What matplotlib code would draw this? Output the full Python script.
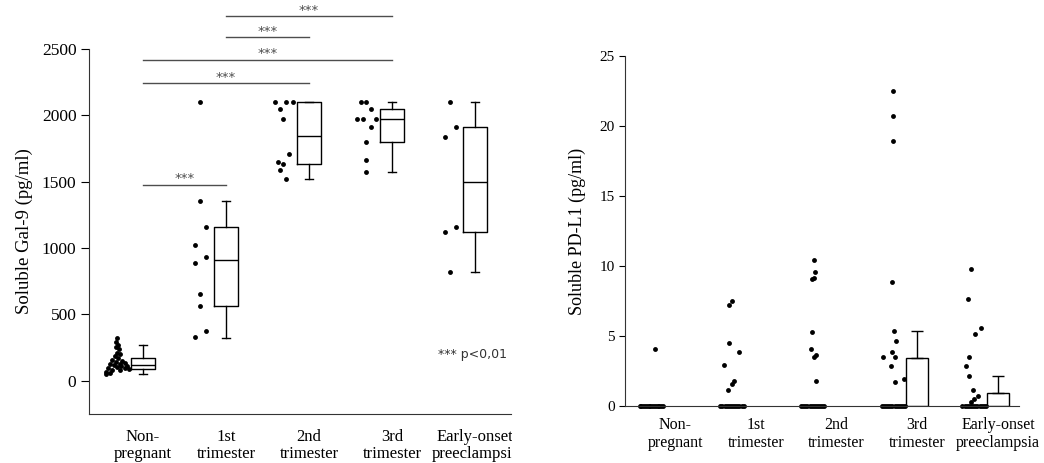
import numpy as np
import matplotlib
matplotlib.use("Agg")
import matplotlib.pyplot as plt
from matplotlib.transforms import Bbox, TransformedBbox

# %% data
groups = ["Non-\npregnant", "1st\ntrimester", "2nd\ntrimester", "3rd\ntrimester", "Early-onset\npreeclampsia"]

# soluble Gal-9 (pg/ml), individual values
gal9_non = [320, 290, 270, 255, 240, 210, 200, 190, 175, 160, 150, 140, 135, 130, 125,
            120, 115, 110, 105, 100, 95, 90, 85, 80, 70, 60, 55]
gal9_1st = [2100, 1353, 1160, 1020, 884, 930, 656, 560, 372, 330]
gal9_2nd = [2100, 2100, 2100, 2050, 1970, 1710, 1650, 1630, 1590, 1520]
gal9_3rd = [2100, 2100, 2050, 1970, 1970, 1970, 1910, 1800, 1660, 1575]
gal9_eo = [2100, 1910, 1840, 1160, 1120, 823]

# box summaries
gal9_q1 = [92, 565, 1630, 1800, 1124]
gal9_med = [120, 911, 1845, 1970, 1500]
gal9_q3 = [175, 1160, 2100, 2050, 1910]
gal9_lo = [50, 326, 1519, 1574, 823]
gal9_hi = [270, 1353, 2100, 2100, 2100]

# significance bars: (group a, group b, height)
sig_pairs = [(1, 3), (1, 2), (0, 3), (0, 2), (0, 1)]
sig_heights = [2750, 2590, 2420, 2245, 1478]

# soluble PD-L1 (pg/ml), non-zero values + count of zeros
pdl1_non = [4.07]
pdl1_1st = [7.21, 7.5, 4.52, 3.83, 2.95, 1.79, 1.55, 1.14]
pdl1_2nd = [10.43, 9.55, 9.07, 9.17, 5.29, 4.1, 3.52, 3.64, 1.76]
pdl1_3rd = [22.5, 20.7, 18.9, 8.86, 5.36, 4.62, 3.52, 3.83, 3.52, 2.88, 1.69, 1.9]
pdl1_eo = [9.81, 7.67, 5.6, 5.14, 3.52, 2.88, 2.17, 1.17, 0.74, 0.5, 0.26]
pdl1_zeros = [14, 12, 12, 12, 12]

bar_groups = [3, 4]
pdl1_mean = [3.45, 0.95]
pdl1_sd = [1.88, 1.19]

# %% horizontal placement of dots
jit_gal9 = [
    [-0.31, -0.33, -0.30, -0.33, -0.29, -0.31, -0.28, -0.34, -0.30, -0.37, -0.25, -0.33, -0.22, -0.28,
     -0.40, -0.35, -0.19, -0.26, -0.31, -0.42, -0.22, -0.17, -0.37, -0.28, -0.44, -0.40, -0.45],
    [-0.31, -0.31, -0.24, -0.38, -0.38, -0.24, -0.31, -0.31, -0.24, -0.38],
    [-0.41, -0.28, -0.20, -0.35, -0.31, -0.24, -0.38, -0.31, -0.35, -0.28],
    [-0.38, -0.31, -0.26, -0.42, -0.35, -0.20, -0.26, -0.31, -0.31, -0.31],
    [-0.30, -0.23, -0.37, -0.23, -0.37, -0.30],
]
jit_pdl1 = [
    [-0.25],
    [-0.33, -0.29, -0.33, -0.21, -0.40, -0.27, -0.30, -0.35],
    [-0.28, -0.27, -0.30, -0.28, -0.30, -0.32, -0.28, -0.26, -0.26],
    [-0.30, -0.30, -0.30, -0.31, -0.29, -0.26, -0.42, -0.31, -0.28, -0.32, -0.27, -0.16],
    [-0.33, -0.37, -0.21, -0.29, -0.36, -0.40, -0.36, -0.31, -0.25, -0.30, -0.34],
]

serif = "Liberation Serif"
fig = plt.figure(figsize=(10.44, 4.63), dpi=100)

# %% left panel: Gal-9
ax1 = fig.add_axes([89 / 1044, 49 / 463, 422 / 1044, 365 / 463])
gal9 = [gal9_non, gal9_1st, gal9_2nd, gal9_3rd, gal9_eo]
for i, vals in enumerate(gal9):
    ax1.plot(np.array(jit_gal9[i]) + i, vals, "o", color="black", ms=3.5, mec="none")

stats = []
for i in range(5):
    stats.append(dict(med=gal9_med[i], q1=gal9_q1[i], q3=gal9_q3[i],
                      whislo=gal9_lo[i], whishi=gal9_hi[i], fliers=[]))
lp = dict(color="black", linewidth=1.0)
ax1.bxp(stats, positions=range(5), widths=0.29, capwidths=0.1, boxprops=lp, whiskerprops=lp,
        capprops=lp, medianprops=lp, showfliers=False, manage_ticks=False)

for (a, b), h in zip(sig_pairs, sig_heights):
    ax1.plot([a, b], [h, h], color="#4d4d4d", lw=1.0, clip_on=False)
    ax1.annotate("***", ((a + b) / 2, h), xytext=(0, -0.5), textcoords="offset points",
                 ha="center", va="bottom", fontsize=9.5, color="#4d4d4d", annotation_clip=False)

ax1.text(3.55, 196, "*** p<0,01", fontsize=9, color="#333333", ha="left", va="center")

ax1.set_xlim(-0.65, 4.43)
ax1.set_ylim(-250, 2500)
ax1.set_yticks([0, 500, 1000, 1500, 2000, 2500])
ax1.set_xticks(range(5))
ax1.set_xticklabels(groups, fontsize=12, family=serif, linespacing=1.1)
ax1.tick_params(axis="x", length=0, pad=11)
ax1.tick_params(axis="y", length=6, width=0.8, labelsize=12.5, pad=3)
for lab in ax1.get_yticklabels():
    lab.set_family(serif)
ax1.set_ylabel("Soluble Gal-9 (pg/ml)", fontsize=13.5, family=serif)
ax1.yaxis.set_label_coords(-0.133, 0.5)
ax1.spines[["top", "right"]].set_visible(False)
ax1.spines["left"].set_color("#333333")
ax1.spines["bottom"].set_color("#333333")
clip = TransformedBbox(Bbox([[0, 0], [512 / 1044, 1]]), fig.transFigure)
for lab in ax1.get_xticklabels():
    lab.set_clip_box(clip)
    lab.set_clip_on(True)

# %% right panel: PD-L1
ax2 = fig.add_axes([625 / 1044, 57 / 463, 394 / 1044, 350 / 463])
pdl1 = [pdl1_non, pdl1_1st, pdl1_2nd, pdl1_3rd, pdl1_eo]
for i, vals in enumerate(pdl1):
    ax2.plot(np.array(jit_pdl1[i]) + i, vals, "o", color="black", ms=3.5, mec="none")
    zx = np.linspace(-0.44, -0.15, pdl1_zeros[i]) + i
    ax2.plot(zx, np.zeros(pdl1_zeros[i]), "o", color="black", ms=3.5, mec="none", clip_on=False)

ax2.bar(bar_groups, pdl1_mean, width=0.27, color="white", edgecolor="black", linewidth=1.0,
        yerr=[np.zeros(len(pdl1_sd)), pdl1_sd], capsize=4,
        error_kw=dict(elinewidth=1.0, capthick=1.0, ecolor="black"))

ax2.set_xlim(-0.62, 4.26)
ax2.set_ylim(0, 25)
ax2.set_yticks([0, 5, 10, 15, 20, 25])
ax2.set_xticks(range(5))
ax2.set_xticklabels(groups, fontsize=11.5, family=serif, linespacing=1.15)
ax2.tick_params(axis="x", length=0, pad=8)
ax2.tick_params(axis="y", length=4, width=0.8, labelsize=11)
for lab in ax2.get_yticklabels():
    lab.set_family(serif)
ax2.set_ylabel("Soluble PD-L1 (pg/ml)", fontsize=13, family=serif)
ax2.yaxis.set_label_coords(-0.10, 0.5)
ax2.spines[["top", "right"]].set_visible(False)
ax2.spines["left"].set_color("#333333")
ax2.spines["bottom"].set_color("#333333")

fig.savefig("out.png", dpi=100)
